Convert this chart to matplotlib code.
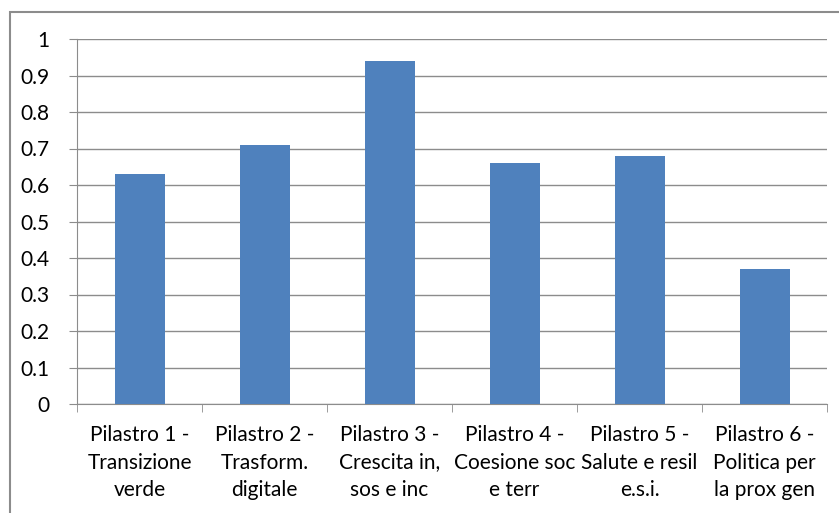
import matplotlib.pyplot as plt
from matplotlib.patches import Rectangle

categories = [
    "Pilastro 1 -\nTransizione\nverde",
    "Pilastro 2 -\nTrasform.\ndigitale",
    "Pilastro 3 -\nCrescita in,\nsos e inc",
    "Pilastro 4 -\nCoesione soc\ne terr",
    "Pilastro 5 -\nSalute e resil\ne.s.i.",
    "Pilastro 6 -\nPolitica per\nla prox gen",
]
values = [0.63, 0.71, 0.94, 0.66, 0.68, 0.37]
yticks = [0, 0.1, 0.2, 0.3, 0.4, 0.5, 0.6, 0.7, 0.8, 0.9, 1]

plt.rcParams['font.family'] = ['Lato', 'DejaVu Sans']

W, H = 839, 513
fig = plt.figure(figsize=(W / 100, H / 100), dpi=100)

# outer chart border (cropped on right and bottom)
fig.patches.append(Rectangle((10 / W, -0.1), 1.2, 1 - 12 / H + 0.1,
                             transform=fig.transFigure, fill=False,
                             edgecolor='#8c8c8c', linewidth=1.5))

ax = fig.add_axes([77 / W, 1 - 404 / H, (827 - 77) / W, (404 - 39) / H])
x = range(len(values))
ax.bar(x, values, width=0.4, color='#4F81BD', zorder=3)

ax.set_xlim(-0.5, len(values) - 0.5)
ax.set_ylim(0, 1)
ax.set_yticks(yticks)
ax.set_yticklabels([f"{v:g}" for v in yticks], fontsize=15)
ax.yaxis.grid(True, color='#8c8c8c', linewidth=1)
ax.set_axisbelow(True)

ax.set_xticks([i for i in x])
ax.set_xticklabels(categories, fontsize=15, linespacing=1.48)
ax.tick_params(axis='x', length=0, pad=15)
ax.set_xticks([i - 0.5 for i in range(len(values) + 1)], minor=True)
ax.tick_params(axis='x', which='minor', length=6, color='#8c8c8c')
ax.tick_params(axis='y', length=6, color='#8c8c8c', pad=14)

for s in ['top', 'right']:
    ax.spines[s].set_visible(False)
for s in ['left', 'bottom']:
    ax.spines[s].set_color('#8c8c8c')

fig.savefig('out.png', dpi=100)
